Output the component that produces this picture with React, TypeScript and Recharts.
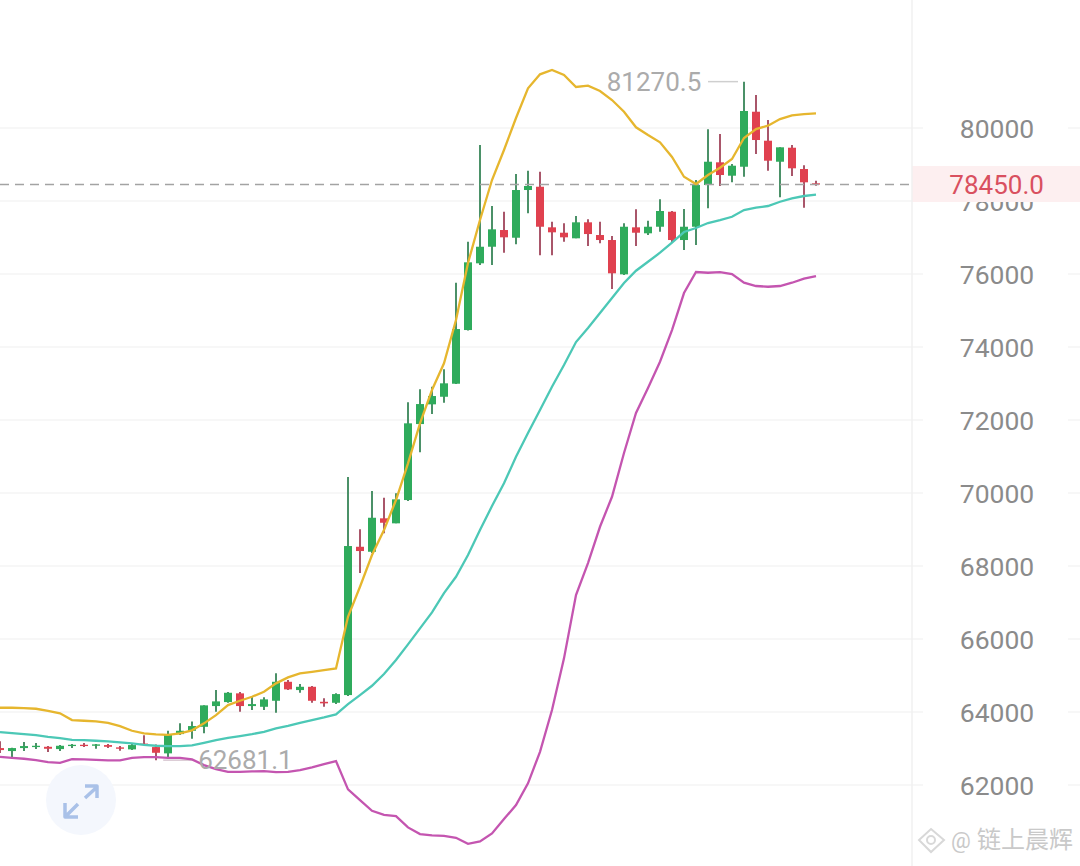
import { Bar, CartesianGrid, ComposedChart, Line, ReferenceArea, ReferenceDot, ReferenceLine, XAxis, YAxis } from 'recharts';

const opens = [63012, 62930, 63012, 63039, 63047, 62984, 63067, 63102, 63075, 63094, 63031, 62976, 63135, 63039, 62867, 63395, 63486, 63595, 64163, 64272, 64511, 64163, 64143, 64308, 64828, 64601, 64691, 64280, 64253, 64464, 68527, 68390, 69306, 69169, 69807, 71889, 72429, 72637, 72994, 74465, 76293, 76747, 77205, 76994, 78301, 78391, 77279, 77131, 76978, 77416, 77068, 76931, 75991, 77279, 77115, 77295, 77706, 76931, 77295, 78438, 79060, 78693, 78939, 80446, 79652, 79076, 79460, 78876, 78485];
const closes = [62957, 63012, 63067, 63075, 62993, 63075, 63102, 63067, 63113, 63047, 62993, 63094, 63094, 62883, 63395, 63486, 63615, 64182, 64291, 64527, 64163, 64217, 64346, 64828, 64620, 64691, 64308, 64237, 64491, 68547, 68410, 69322, 69185, 69826, 71909, 72437, 72657, 73005, 74492, 76320, 76747, 77224, 77005, 78301, 78411, 77295, 77142, 77005, 77416, 77095, 76931, 76019, 77295, 77131, 77295, 77726, 76931, 77295, 78438, 79076, 78712, 78967, 80466, 79671, 79104, 79471, 78896, 78512, 78450];
const highs = [63200, 63020, 63176, 63149, 63067, 63094, 63121, 63149, 63121, 63121, 63067, 63121, 63360, 63113, 63486, 63689, 63743, 64182, 64601, 64546, 64546, 64437, 64401, 65059, 64875, 64765, 64711, 64374, 64511, 70437, 69004, 70054, 69870, 69991, 72484, 72840, 72911, 73388, 75761, 76884, 79534, 77863, 77706, 78739, 78830, 78802, 77432, 77389, 77589, 77498, 77432, 77041, 77389, 77772, 77460, 78046, 77726, 77780, 78575, 79964, 79835, 79013, 81270.5, 80904, 80219, 79471, 79534, 78978, 78556];
const lows = [62880, 62765, 62930, 62984, 62902, 62930, 63012, 63039, 62993, 63012, 62938, 62957, 63094, 62681.1, 62757, 63368, 63267, 63415, 64006, 64253, 64006, 64053, 64053, 63979, 64601, 64527, 64253, 64143, 64217, 64437, 67807, 68355, 68895, 69169, 69780, 71114, 72163, 72473, 72985, 74452, 76246, 76246, 76583, 76813, 77663, 76512, 76512, 76884, 76978, 76767, 76841, 75588, 75972, 76767, 77068, 77158, 76857, 76657, 76794, 77800, 78411, 78512, 78665, 79287, 78830, 78101, 78685, 77816, 78419];

const upperBand = [64116, 64116, 64108, 64089, 64034, 63963, 63779, 63760, 63743, 63705, 63615, 63486, 63415, 63387, 63376, 63415, 63497, 63689, 63916, 64190, 64308, 64417, 64554, 64785, 64949, 65059, 65102, 65149, 65195, 66609, 67431, 68300, 68985, 69807, 70813, 71909, 72821, 73553, 74739, 76301, 77479, 78575, 79397, 80274, 81088, 81471, 81589, 81452, 81123, 81159, 81014, 80767, 80446, 80019, 79808, 79608, 79205, 78665, 78465, 78712, 78912, 79150, 79726, 79972, 80063, 80246, 80348, 80383, 80403];
const middleBand = [63450, 63423, 63395, 63368, 63321, 63286, 63239, 63231, 63212, 63195, 63168, 63141, 63102, 63075, 63067, 63067, 63086, 63157, 63231, 63294, 63341, 63395, 63458, 63552, 63623, 63705, 63779, 63853, 63935, 64217, 64464, 64719, 65039, 65423, 65853, 66292, 66730, 67259, 67705, 68300, 68985, 69643, 70265, 70993, 71643, 72273, 72911, 73506, 74136, 74520, 74931, 75342, 75753, 76090, 76336, 76583, 76862, 77150, 77260, 77397, 77479, 77569, 77753, 77816, 77863, 77980, 78074, 78137, 78172];
const lowerBand = [62773, 62746, 62719, 62683, 62628, 62609, 62710, 62702, 62691, 62675, 62675, 62746, 62765, 62765, 62746, 62746, 62702, 62546, 62436, 62362, 62362, 62373, 62382, 62354, 62362, 62409, 62483, 62573, 62656, 61880, 61587, 61294, 61184, 61149, 60839, 60655, 60620, 60609, 60554, 60390, 60455, 60675, 61066, 61450, 62045, 62910, 64053, 65470, 67204, 68081, 69075, 69897, 71095, 72191, 72876, 73596, 74465, 75479, 76054, 76035, 76054, 75999, 75761, 75671, 75651, 75671, 75761, 75871, 75945];

const priceTicks = [62000, 64000, 66000, 68000, 70000, 72000, 74000, 76000, 78000, 80000];
const lastPrice = 78450;
const highMark = 81270.5;
const lowMark = 62681.1;
// the last price tag sits on top of this tick in the app
const coveredTick = 78000;

const chartData = opens.map((open, i) => ({
  index: i,
  open,
  close: closes[i],
  high: highs[i],
  low: lows[i],
  upper: upperBand[i],
  middle: middleBand[i],
  lower: lowerBand[i],
}));

const FONT = 'Roboto, sans-serif';
const GREEN = '#2fab5c';
const GREEN_WICK = '#4b9168';
const RED = '#e0414f';
const RED_WICK = '#a9566a';

function Candle(props: any) {
  const { x, y, width, height, payload } = props;
  const up = payload.close >= payload.open;
  const perUnit = height / (payload.high - payload.low || 1);
  const top = y + (payload.high - Math.max(payload.open, payload.close)) * perUnit;
  const bodyHeight = Math.max(Math.abs(payload.close - payload.open) * perUnit, 1);
  const mid = x + width / 2;
  return (
    <g>
      <line x1={mid} x2={mid} y1={y} y2={y + height} stroke={up ? GREEN_WICK : RED_WICK} strokeWidth={2} />
      <rect x={x} y={top} width={width} height={bodyHeight} fill={up ? GREEN : RED} />
    </g>
  );
}

function PriceTick(props: any) {
  const { y, payload } = props;
  const covered = payload.value === coveredTick;
  return (
    <g clipPath={covered ? 'url(#below-price-tag)' : undefined}>
      <clipPath id="below-price-tag">
        <rect x={912} y={202} width={168} height={30} />
      </clipPath>
      <rect x={923} y={y - 3} width={145} height={6} fill="#fff" />
      <text x={997} y={y + 9.5} textAnchor="middle" fontFamily={FONT} fontSize={26.5} fill="#8b8b8b">
        {payload.value}
      </text>
    </g>
  );
}

function ExpandButton() {
  return (
    <svg width={1080} height={866} style={{ position: 'absolute', left: 0, top: 0, pointerEvents: 'none' }}>
      <circle cx={81} cy={800} r={35} fill="#f4f7fd" />
      <g fill="none" stroke="#a9c1e8" strokeWidth={3.5} strokeLinejoin="round">
        <path d="M85 798 L97 787 M85 786 H97 V798" />
        <path d="M66 816 L78 804 M65 803 V817 H78" />
      </g>
      <g fill="none" stroke="#d8d8d8" strokeWidth={2}>
        <path d="M931 829 L944 840 L931 852 L919 840 Z" />
        <circle cx={931} cy={840} r={4} />
      </g>
      <text x={951} y={848} fontFamily={FONT} fontSize={22} fill="#c9c9c9">@</text>
      <text x={977} y={848} fontFamily='"Noto Sans CJK SC"' fontSize={24} fill="#c9c9c9">链上晨辉</text>
    </svg>
  );
}

export default function App() {
  return (
    <div style={{ position: 'absolute', left: 0, top: 0, width: 1080, height: 866, background: '#fff', overflow: 'hidden' }}>
      <ComposedChart width={1080} height={866} data={chartData} margin={{ top: 0, right: 0, bottom: 0, left: 0 }}>
        <CartesianGrid vertical={false} stroke="#f5f5f5" strokeWidth={1.5} horizontalValues={priceTicks} />
        <XAxis dataKey="index" type="number" domain={[0, 90]} hide allowDataOverflow />
        <YAxis
          orientation="right"
          mirror
          width={1}
          domain={[59781, 83507]}
          ticks={priceTicks}
          interval={0}
          axisLine={false}
          tickLine={false}
          tick={PriceTick}
          allowDataOverflow
        />
        <ReferenceLine x={76} stroke="#f1f1f1" strokeWidth={1.5} />
        <ReferenceArea x1={76} x2={90} y1={77972} y2={78959} fill="#fdeff0" fillOpacity={1} stroke="none" />
        <ReferenceLine
          segment={[{ x: 0, y: lastPrice }, { x: 76, y: lastPrice }]}
          stroke="#a3a3a3"
          strokeWidth={1.5}
          strokeDasharray="9 6"
        />
        <ReferenceLine
          segment={[{ x: 59, y: highMark }, { x: 61.5, y: highMark }]}
          stroke="#cfcfcf"
          strokeWidth={1.5}
        />
        <ReferenceLine
          segment={[{ x: 13.6, y: lowMark }, { x: 16.2, y: lowMark }]}
          stroke="#d8c8d2"
          strokeWidth={1.5}
        />
        <Bar dataKey={(d: any) => [d.low, d.high]} barSize={8} shape={<Candle />} isAnimationActive={false} />
        <Line dataKey="upper" stroke="#e6b62e" strokeWidth={2.3} dot={false} activeDot={false} isAnimationActive={false} />
        <Line dataKey="middle" stroke="#4cc8b6" strokeWidth={2.3} dot={false} activeDot={false} isAnimationActive={false} />
        <Line dataKey="lower" stroke="#c455b0" strokeWidth={2.3} dot={false} activeDot={false} isAnimationActive={false} />
        <ReferenceDot
          x={54.5}
          y={highMark}
          r={0}
          stroke="none"
          fill="none"
          label={{ value: '81270.5', position: 'center', fill: '#ababab', fontSize: 26, fontFamily: FONT }}
        />
        <ReferenceDot
          x={20.45}
          y={lowMark}
          r={0}
          stroke="none"
          fill="none"
          label={{ value: '62681.1', position: 'center', fill: '#ababab', fontSize: 26, fontFamily: FONT }}
        />
        <ReferenceDot
          x={83.05}
          y={lastPrice}
          r={0}
          stroke="none"
          fill="none"
          label={{ value: '78450.0', position: 'center', fill: '#d9505f', fontSize: 26, fontFamily: FONT }}
        />
      </ComposedChart>
      <ExpandButton />
    </div>
  );
}
